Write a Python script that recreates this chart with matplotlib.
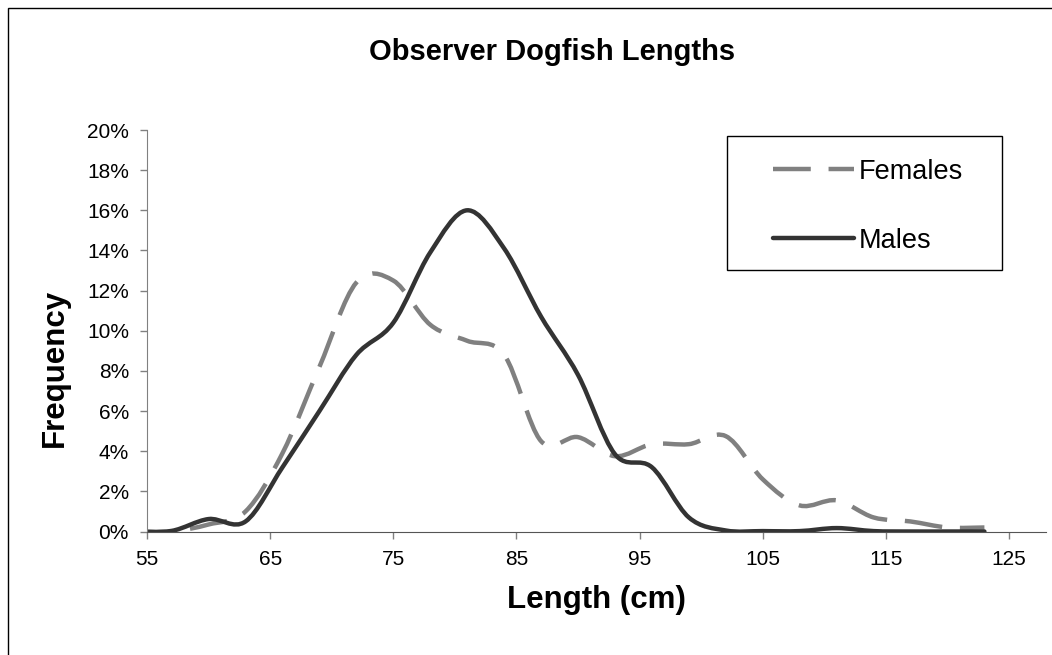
import numpy as np
import matplotlib.pyplot as plt
from matplotlib.path import Path
from matplotlib.patches import PathPatch, Rectangle
from matplotlib.lines import Line2D
from matplotlib.ticker import PercentFormatter

plt.rcParams['font.family'] = ['Liberation Sans', 'DejaVu Sans']

# length bins (cm) and frequencies
length = [54, 57, 60, 63, 66, 69, 72, 75, 78, 81, 84, 87, 90, 93, 96, 99,
          102, 105, 108, 111, 114, 117, 120, 123]
females = [0.0, 0.0, 0.35, 1.0, 3.9, 8.2, 12.4, 12.5, 10.3, 9.5, 8.8, 4.5,
           4.7, 3.75, 4.35, 4.35, 4.75, 2.6, 1.3, 1.55, 0.7, 0.5, 0.2, 0.2]
males = [0.0, 0.03, 0.62, 0.5, 3.2, 6.0, 8.8, 10.4, 13.9, 16.0, 14.1, 10.7,
         7.8, 3.85, 3.2, 0.7, 0.05, 0.02, 0.02, 0.17, 0.02, 0.0, 0.0, 0.0]
xticks = [55, 65, 75, 85, 95, 105, 115, 125]


def smooth_path(xs, ys):
    # Excel-style smoothed line: cubic Bezier through every point
    p = np.column_stack([xs, np.asarray(ys) / 100.0])
    q = np.vstack([p[0], p, p[-1]])
    verts = [p[0]]
    codes = [Path.MOVETO]
    for i in range(len(p) - 1):
        c1 = q[i + 1] + (q[i + 2] - q[i]) / 6.0
        c2 = q[i + 2] - (q[i + 3] - q[i + 1]) / 6.0
        verts += [c1, c2, p[i + 1]]
        codes += [Path.CURVE4] * 3
    return Path(verts, codes)


fig = plt.figure(figsize=(10.52, 6.55), dpi=100)
ax = fig.add_axes([147 / 1052, 1 - 531.5 / 655, 899 / 1052, 401.5 / 655])

fem_style = dict(color='#808080', lw=3.2, linestyle=(0, (8.5, 4)))
male_style = dict(color='#333333', lw=3.2)

ax.add_patch(PathPatch(smooth_path(length, females), fill=False,
                       capstyle='butt', **fem_style))
ax.add_patch(PathPatch(smooth_path(length, males), fill=False,
                       capstyle='round', joinstyle='round', **male_style))

ax.set_xlim(55, 128)
ax.set_ylim(0, 0.20)
ax.set_xticks(xticks)
ax.set_yticks(np.arange(0, 0.201, 0.02))
ax.yaxis.set_major_formatter(PercentFormatter(1.0, decimals=0))

for s in ['top', 'right']:
    ax.spines[s].set_visible(False)
ax.spines['left'].set_color('#808080')
ax.spines['bottom'].set_color('#555555')
ax.tick_params(axis='both', direction='out', length=5, width=1,
               color='#808080', labelsize=15)
ax.tick_params(axis='x', pad=8)
ax.tick_params(axis='y', pad=8)

ax.set_xlabel('Length (cm)', fontsize=22.5, fontweight='bold')
ax.xaxis.set_label_coords(0.5, -0.171)
ax.xaxis.label.set_va('center')
ax.set_ylabel('Frequency', fontsize=22.5, fontweight='bold')
ax.yaxis.set_label_coords(-0.102, 0.407)
ax.yaxis.label.set_va('center')

fig.text(552 / 1052, 1 - 52 / 655, 'Observer Dogfish Lengths',
         fontsize=21, fontweight='bold', ha='center', va='center')

handles = [Line2D([], [], solid_capstyle='butt', **fem_style),
           Line2D([], [], solid_capstyle='round', **male_style)]
ax.legend(handles, ['Females', 'Males'], loc='upper left',
          bbox_to_anchor=((759 - 147) / 899, (531.5 - 145) / 401.5),
          frameon=False, fontsize=19.5, handlelength=3.0, handletextpad=0.2,
          labelspacing=1.6, borderpad=0.0)
ax.add_patch(Rectangle(((727 - 147) / 899, (531.5 - 270) / 401.5),
                       275 / 899, 134 / 401.5, transform=ax.transAxes,
                       fill=False, ec='black', lw=1, clip_on=False))

# chart area border (only the left and top edges are in frame)
fig.add_artist(Rectangle((8 / 1052, -0.1), 1.2, 1 - 8 / 655 + 0.1,
                         transform=fig.transFigure, fill=False,
                         ec='black', lw=1))

fig.savefig('out.png', dpi=100)
